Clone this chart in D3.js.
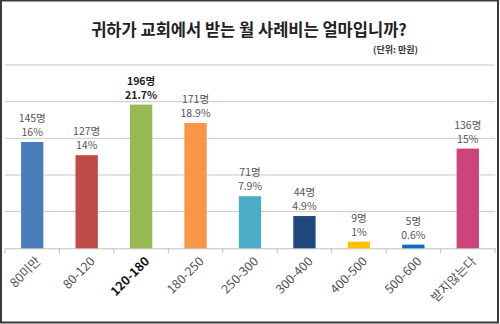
<!DOCTYPE html>
<html><head><meta charset="utf-8">
<script src="https://cdn.jsdelivr.net/npm/d3@7"></script>
<style>body{margin:0;background:#fff;}svg{display:block;font-family:"Noto Sans CJK KR","Noto Sans",sans-serif;}</style>
</head><body><svg id="c" width="500" height="324"></svg>
<script>
const categories = ["80미만","80-120","120-180","180-250","250-300","300-400","400-500","500-600","받지않는다"];
const counts = [145,127,196,171,71,44,9,5,136];
const percents = ["16%","14%","21.7%","18.9%","7.9%","4.9%","1%","0.6%","15%"];
const colors = ["#4a7ebb","#be4b48","#98b954","#f79646","#4bacc6","#1f497d","#ffc000","#0a6cc0","#cc4479"];
const yTicks = [0,50,100,150,200,250];
const highlight = "120-180";

const svg = d3.select("#c");
const x = d3.scaleBand().domain(categories).range([5,495]).paddingInner(0.59).paddingOuter(0.295);
const y = d3.scaleLinear().domain([0,250]).range([248.3,65]);

svg.append("rect").attr("x",1).attr("y",0.5).attr("width",497).attr("height",322).attr("fill","#fff").attr("stroke","#3a3a3a").attr("stroke-width",2);

svg.append("text").attr("x",249).attr("y",36).attr("text-anchor","middle").attr("font-size",16.5).attr("font-weight","bold").attr("fill","#222").text("귀하가 교회에서 받는 월 사례비는 얼마입니까?");
svg.append("text").attr("x",418).attr("y",53).attr("text-anchor","end").attr("font-size",9).attr("font-weight","bold").attr("fill","#333").text("(단위: 만원)");

const grid = svg.append("g");
grid.selectAll("line").data(yTicks.slice(1)).join("line")
  .attr("x1",5).attr("x2",495).attr("y1",d=>y(d)).attr("y2",d=>y(d))
  .attr("stroke","#c8c8c8").attr("stroke-width",1);

const xAxis = d3.axisBottom(x).tickSize(0).tickFormat("");
const ax = svg.append("g").attr("transform",`translate(0,${y(0)})`).call(xAxis);
ax.select(".domain").attr("stroke","#c0c0c0");
// band boundary ticks
const step = x.step();
const bounds = d3.range(categories.length+1).map(i=>5+i*step);
ax.selectAll(".bt").data(bounds).join("line").attr("class","bt")
  .attr("x1",d=>d).attr("x2",d=>d).attr("y1",0).attr("y2",5).attr("stroke","#c0c0c0");

svg.selectAll(".bar").data(categories).join("rect").attr("class","bar")
  .attr("x",d=>x(d)).attr("width",x.bandwidth())
  .attr("y",(d,i)=>y(counts[i])).attr("height",(d,i)=>y(0)-y(counts[i]))
  .attr("fill",(d,i)=>colors[i]);

const lab = svg.append("g").attr("font-size",10.5);
categories.forEach((c,i)=>{
  const cx = x(c)+x.bandwidth()/2;
  const top = y(counts[i]);
  const hl = c===highlight;
  lab.append("text").attr("x",cx).attr("y",top-20).attr("text-anchor","middle")
    .attr("fill",hl?"#222":"#555").attr("font-weight",hl?"bold":"normal").text(counts[i]+"명");
  lab.append("text").attr("x",cx).attr("y",top-6).attr("text-anchor","middle")
    .attr("fill",hl?"#222":"#555").attr("font-weight",hl?"bold":"normal").text(percents[i]);
});

const xl = svg.append("g").attr("font-size",12.5);
categories.forEach((c,i)=>{
  const cx = x(c)+x.bandwidth()/2;
  const hl = c===highlight;
  xl.append("text").attr("transform",`translate(${cx+6},${259}) rotate(-45)`)
    .attr("text-anchor","end").attr("dy","0.35em")
    .attr("fill",hl?"#111":"#555").attr("font-weight",hl?"bold":"normal").text(c);
});
</script></body></html>
